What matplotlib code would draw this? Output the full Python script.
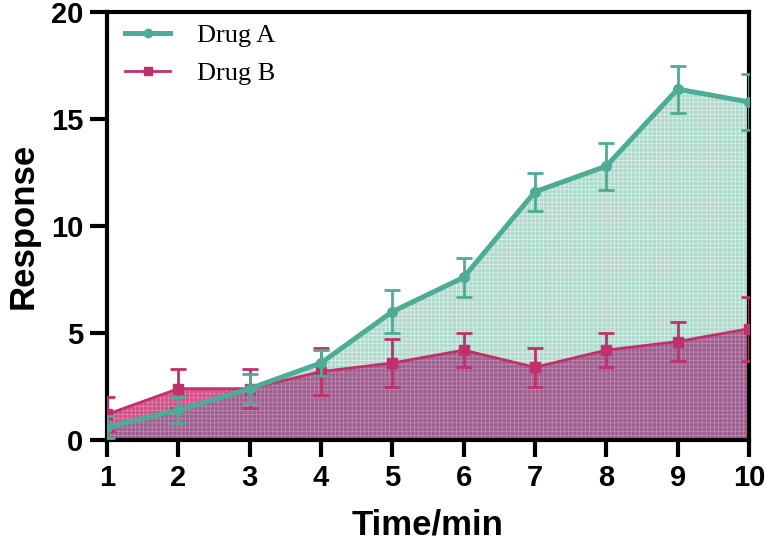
import numpy as np
import matplotlib.pyplot as plt
from matplotlib.lines import Line2D

# data
time = [1, 2, 3, 4, 5, 6, 7, 8, 9, 10]
drug_a = [0.6, 1.4, 2.4, 3.6, 6.0, 7.6, 11.6, 12.8, 16.4, 15.8]
drug_a_err = [0.5, 0.6, 0.7, 0.6, 1.0, 0.9, 0.9, 1.1, 1.1, 1.3]
drug_b = [1.2, 2.4, 2.4, 3.2, 3.6, 4.2, 3.4, 4.2, 4.6, 5.2]
drug_b_err = [0.8, 0.9, 0.9, 1.1, 1.1, 0.8, 0.9, 0.8, 0.9, 1.5]

col_a = '#4dac95'
col_b = '#c2306c'

plt.rcParams['hatch.linewidth'] = 0.4
fig = plt.figure(figsize=(7.65, 5.5), dpi=100)
ax = fig.add_axes([0.140, 0.200, 0.839, 0.778])

# shaded areas: teal under A, pink under B, purple where they overlap
overlap = np.minimum(drug_a, drug_b)
ax.fill_between(time, drug_a, facecolor='#b0dacd', hatch='++++',
                edgecolor='#e8f4f0', linewidth=0, zorder=1)
ax.fill_between(time, drug_b, facecolor='#d2508a', hatch='++++',
                edgecolor='#e890b8', linewidth=0, zorder=2)
ax.fill_between(time, overlap, facecolor='#9e6090', hatch='++++',
                edgecolor='#c894b8', linewidth=0, zorder=2)

ax.errorbar(time, drug_b, yerr=drug_b_err, color=col_b, lw=2, marker='s',
            ms=7, capsize=6, capthick=2, elinewidth=2, zorder=3)
ax.errorbar(time, drug_a, yerr=drug_a_err, color=col_a, lw=3.6, marker='o',
            ms=7, capsize=6, capthick=2, elinewidth=2, zorder=4)

ax.set_xlim(1, 10)
ax.set_ylim(0, 20)
ax.set_xticks(time)
ax.set_yticks([0, 5, 10, 15, 20])

for side in ['left', 'bottom', 'top', 'right']:
    ax.spines[side].set_linewidth(3)
ax.tick_params(width=3, length=12, labelsize=21, pad=5)
for lab in ax.get_xticklabels() + ax.get_yticklabels():
    lab.set_fontweight('bold')
    lab.set_fontfamily('Liberation Sans')

ax.set_xlabel('Time/min', fontsize=25, fontweight='bold',
              family='Liberation Sans', labelpad=12)
ax.set_ylabel('Response', fontsize=25, fontweight='bold',
              family='Liberation Sans', labelpad=8)

handles = [
    Line2D([], [], color=col_a, lw=3.6, marker='o', ms=6),
    Line2D([], [], color=col_b, lw=2, marker='s', ms=6),
]
ax.legend(handles, ['Drug A', 'Drug B'], loc='upper left', frameon=False,
          bbox_to_anchor=(0.01, 1.0), prop={'family': 'Liberation Serif', 'size': 19},
          handlelength=1.7, handletextpad=1.0, borderaxespad=0.2,
          labelspacing=0.55, borderpad=0.25)

fig.savefig('out.png', dpi=100)
